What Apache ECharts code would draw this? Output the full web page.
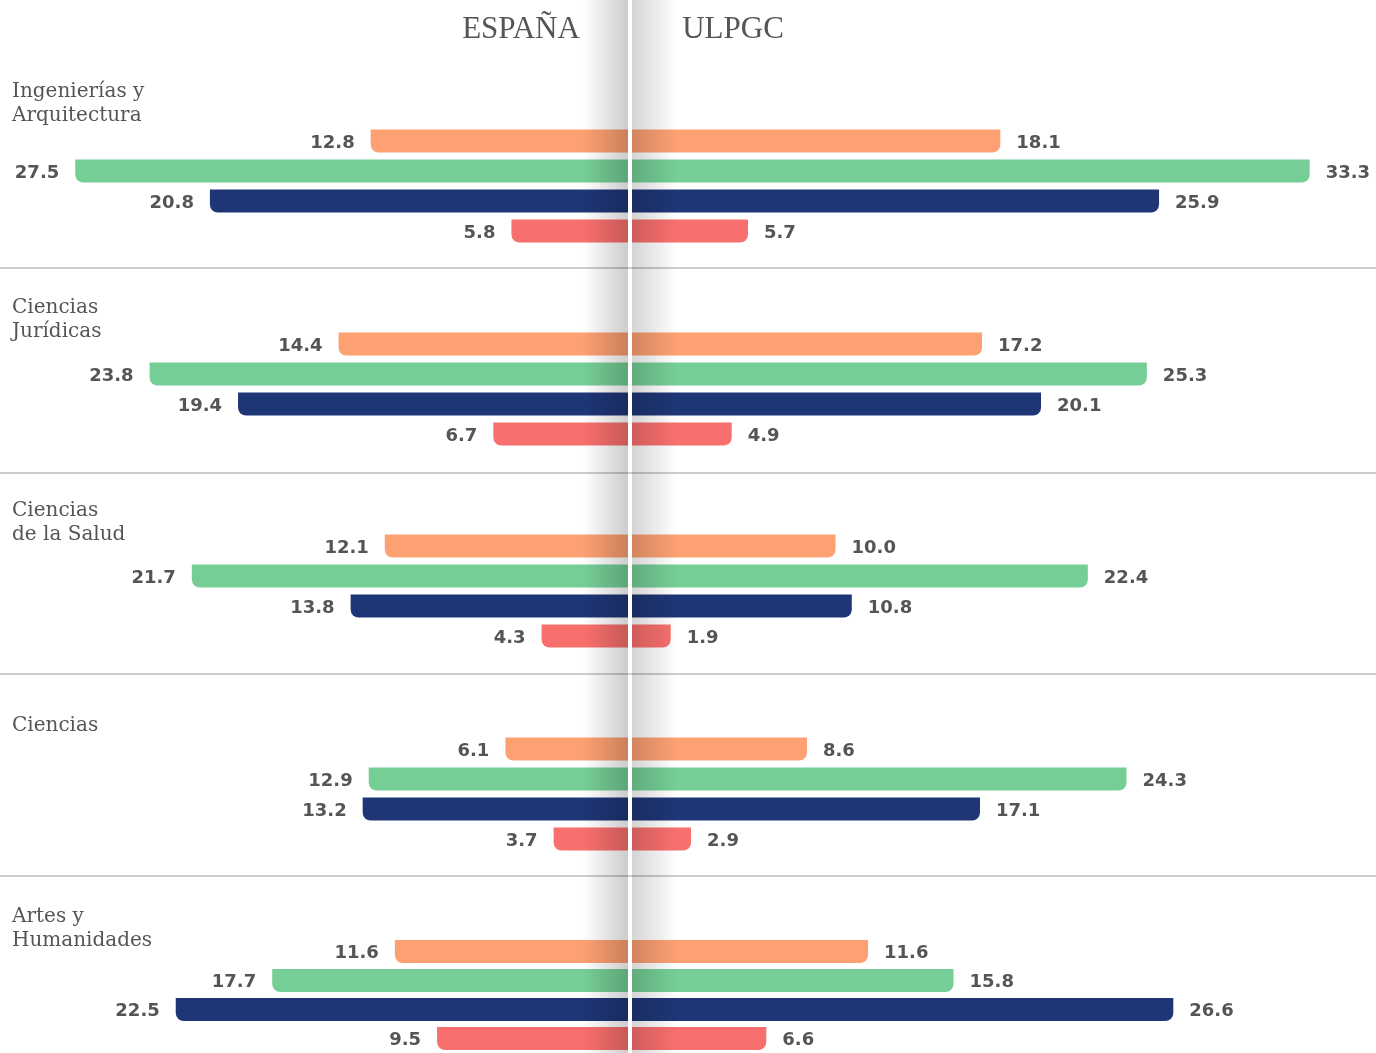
<!DOCTYPE html>
<html><head><meta charset="utf-8">
<script src="https://cdn.jsdelivr.net/npm/echarts@6/dist/echarts.min.js"></script>
<style>html,body{margin:0;padding:0;background:#fff}#c{width:1376px;height:1053px}</style>
</head><body><div id="c"></div>
<script>
// ---- data ----
const groups = ["Ingenierías y\nArquitectura", "Ciencias\nJurídicas", "Ciencias\nde la Salud", "Ciencias", "Artes y\nHumanidades"];
const sideTitles = ["ESPAÑA", "ULPGC"];
// four bars per group (orange, green, navy, red), values per group
const espanaOrange = [12.8, 14.4, 12.1, 6.1, 11.6];
const espanaGreen  = [27.5, 23.8, 21.7, 12.9, 17.7];
const espanaNavy   = [20.8, 19.4, 13.8, 13.2, 22.5];
const espanaRed    = [5.8, 6.7, 4.3, 3.7, 9.5];
const ulpgcOrange  = [18.1, 17.2, 10.0, 8.6, 11.6];
const ulpgcGreen   = [33.3, 25.3, 22.4, 24.3, 15.8];
const ulpgcNavy    = [25.9, 20.1, 10.8, 17.1, 26.6];
const ulpgcRed     = [5.7, 4.9, 1.9, 2.9, 6.6];
const barColors = ['#FDA072', '#75CE96', '#1E3676', '#F8706D'];

// ---- layout ----
const groupTops = [126, 329, 531, 734, 937];
const labelTops = [92, 308, 511, 726, 917];
const separators = [268, 473, 674, 876];
const leftMax = 30, rightMax = 36;
const leftScale = 20.1, rightScale = 20.35;
const centerL = 628, centerR = 632;

const grids = [], xAxes = [], yAxes = [], series = [];
const labelStyle = {color: '#555', fontFamily: 'DejaVu Sans', fontWeight: 'bold', fontSize: 18};

groups.forEach((g, i) => {
  const esp = [espanaOrange[i], espanaGreen[i], espanaNavy[i], espanaRed[i]];
  const ul = [ulpgcOrange[i], ulpgcGreen[i], ulpgcNavy[i], ulpgcRed[i]];
  [0, 1].forEach(side => {
    const idx = grids.length;
    const w = side === 0 ? leftMax * leftScale : rightMax * rightScale;
    grids.push({left: side === 0 ? centerL - w : centerR, width: w, top: groupTops[i], height: 120});
    xAxes.push({type: 'value', gridIndex: idx, min: 0, max: side === 0 ? leftMax : rightMax, inverse: side === 0, show: false});
    yAxes.push({type: 'category', gridIndex: idx, data: ['a', 'b', 'c', 'd'], inverse: true, show: false});
    const vals = side === 0 ? esp : ul;
    series.push({
      type: 'bar', xAxisIndex: idx, yAxisIndex: idx, barWidth: 23, silent: true,
      data: vals.map((v, k) => ({value: v, itemStyle: {color: barColors[k],
        borderRadius: side === 0 ? [0, 0, 0, 8] : [0, 0, 8, 0]}})),
      label: Object.assign({show: true, position: side === 0 ? 'left' : 'right', distance: 16, offset: [0, 2],
        formatter: p => p.value.toFixed(1)}, labelStyle)
    });
  });
});

const graphic = [];
// separators
separators.forEach(y => graphic.push({type: 'line', shape: {x1: 0, y1: y, x2: 1376, y2: y}, style: {stroke: '#9a9a9a', lineWidth: 1}, z: 1}));
// group labels
groups.forEach((g, i) => graphic.push({type: 'text', left: 12, top: labelTops[i] - 12,
  style: {text: g, font: '20px "DejaVu Serif"', fill: '#555', lineHeight: 24}, z: 5}));
// titles
graphic.push({type: 'text', x: 521, y: 30, style: {text: sideTitles[0], font: '31px "Liberation Serif"', fill: '#555', textAlign: 'center', textVerticalAlign: 'middle'}, z: 5});
graphic.push({type: 'text', x: 733, y: 30, style: {text: sideTitles[1], font: '31px "Liberation Serif"', fill: '#555', textAlign: 'center', textVerticalAlign: 'middle'}, z: 5});
// center shadow
graphic.push({type: 'rect', shape: {x: 583, y: 0, width: centerL - 583, height: 1053}, silent: true, z: 100,
  style: {fill: new echarts.graphic.LinearGradient(0, 0, 1, 0, [{offset: 0, color: 'rgba(0,0,0,0)'}, {offset: 1, color: 'rgba(0,0,0,0.2)'}])}});
graphic.push({type: 'rect', shape: {x: centerR, y: 0, width: 45, height: 1053}, silent: true, z: 100,
  style: {fill: new echarts.graphic.LinearGradient(0, 0, 1, 0, [{offset: 0, color: 'rgba(0,0,0,0.17)'}, {offset: 1, color: 'rgba(0,0,0,0)'}])}});

const chart = echarts.init(document.getElementById('c'), null, {renderer: 'canvas'});
chart.setOption({animation: false, backgroundColor: '#fff', grid: grids, xAxis: xAxes, yAxis: yAxes, series: series, graphic: graphic});
</script></body></html>
